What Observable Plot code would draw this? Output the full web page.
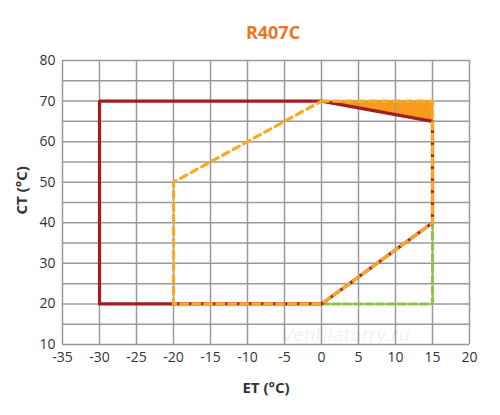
<!DOCTYPE html>
<html><head><meta charset="utf-8">
<script src="https://cdn.jsdelivr.net/npm/d3@7"></script>
<script src="https://cdn.jsdelivr.net/npm/@observablehq/plot@0.6"></script>
<style>body{margin:0;background:#fff;font-family:"Open Sans",sans-serif;}</style>
</head><body><div id="c"></div>
<script>
const title = "R407C";
const xLabel = "ET (°C)";
const yLabel = "CT (°C)";
const xTicks = [-35,-30,-25,-20,-15,-10,-5,0,5,10,15,20];
const yTicks = [10,20,30,40,50,60,70,80];
const xGrid = xTicks;
const yGrid = [10,15,20,25,30,35,40,45,50,55,60,65,70,75,80];
const redET = [-30,-30,0,15,15,0,-30];
const redCT = [20,70,70,65,40,20,20];
const orangeET = [0,15,15,0,-20,-20,0];
const orangeCT = [70,70,40,20,20,50,70];
const greenET = [0,15,15];
const greenCT = [20,20,40];
const fillET = [0,15];
const fillLowCT = [70,65];
const fillTopCT = [70,70];
const watermark = "Ventilatorry.ru";

const pts = (xs, ys) => xs.map((x,i)=>({x, y: ys[i]}));
const fillData = fillET.map((x,i)=>({x, lo: fillLowCT[i], hi: fillTopCT[i]}));

const chart = Plot.plot({
  width: 500, height: 415,
  marginLeft: 62, marginRight: 31, marginTop: 60, marginBottom: 71,
  style: {fontFamily: "'Open Sans', sans-serif", fontSize: "14px", color: "#333", background: "#fff"},
  x: {domain: [-35, 20], label: null},
  y: {domain: [10, 80], label: null},
  marks: [
    Plot.area(fillData, {x1: "x", y1: "lo", y2: "hi", fill: "#f89b1d"}),
    Plot.ruleX(xGrid, {stroke: "#9a9a9a", strokeWidth: 1.5}),
    Plot.ruleY(yGrid, {stroke: "#9a9a9a", strokeWidth: 1.5}),
    Plot.text([watermark], {x: 3.3, y: 10, dy: -9, fontSize: 18, fontStyle: "italic", fill: "#000", fillOpacity: 0.07, fontFamily: "'DejaVu Sans', sans-serif"}),
    Plot.line(pts(greenET, greenCT), {x: "x", y: "y", stroke: "#8cc63f", strokeWidth: 3, strokeDasharray: "7,4"}),
    Plot.line(pts(redET, redCT), {x: "x", y: "y", stroke: "#a31c20", strokeWidth: 3.2, strokeLinejoin: "miter"}),
    Plot.line(pts(orangeET, orangeCT), {x: "x", y: "y", stroke: "#f6aa25", strokeWidth: 3.2, strokeDasharray: "7,5"}),
    Plot.axisX({ticks: xTicks, tickSize: 0, tickPadding: 8, fontSize: 14, fill: "#333", tickFormat: d => String(d)}),
    Plot.axisY({ticks: yTicks, tickSize: 0, tickPadding: 7, fontSize: 14, fill: "#333", tickFormat: d => String(d)}),
    Plot.text([title], {frameAnchor: "top", dx: 7, dy: -34, fontSize: 18, fontWeight: "bold", fill: "#ec7424"}),
    Plot.text([xLabel], {frameAnchor: "bottom", dx: 0, dy: 48, fontSize: 15, fontWeight: "bold", fill: "#333"}),
    Plot.text([yLabel], {frameAnchor: "left", dx: -40, dy: 12, rotate: -90, fontSize: 15, fontWeight: "bold", fill: "#333"})
  ]
});
document.getElementById("c").append(chart);
</script></body></html>
